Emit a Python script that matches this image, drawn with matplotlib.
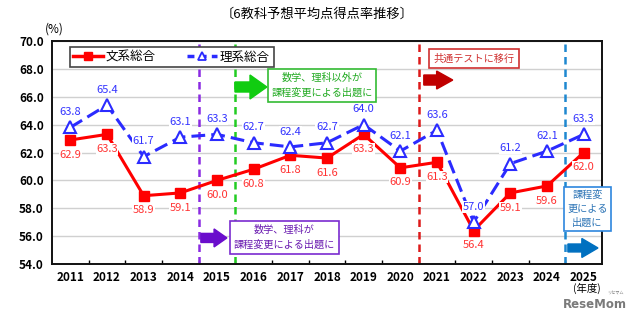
import numpy as np
import matplotlib
matplotlib.use("Agg")
import matplotlib.pyplot as plt
from matplotlib.lines import Line2D
from matplotlib.patches import FancyArrow

plt.rcParams['font.family'] = ['Noto Sans CJK JP', 'DejaVu Sans']

# data
years = [2011, 2012, 2013, 2014, 2015, 2016, 2017, 2018, 2019, 2020, 2021, 2022, 2023, 2024, 2025]
bunkei = [62.9, 63.3, 58.9, 59.1, 60.0, 60.8, 61.8, 61.6, 63.3, 60.9, 61.3, 56.4, 59.1, 59.6, 62.0]
rikei = [63.8, 65.4, 61.7, 63.1, 63.3, 62.7, 62.4, 62.7, 64.0, 62.1, 63.6, 57.0, 61.2, 62.1, 63.3]
change_years = [2014.5, 2015.5, 2020.5, 2024.5]
change_colors = ['#8A2BE2', '#22CC22', '#DD1A1A', '#1E88D0']

RED = '#FF0000'
BLUE = '#2B2BFF'

fig = plt.figure(figsize=(6.4, 3.24), dpi=100)
ax = fig.add_axes([52 / 640, 60 / 324, 550 / 640, 223 / 324])

ax.set_xlim(2010.5, 2025.5)
ax.set_ylim(54, 70)
ax.set_yticks(np.arange(54, 70.1, 2))
ax.set_yticklabels(['%.1f' % v for v in np.arange(54, 70.1, 2)], fontsize=8.5, fontweight='bold')
ax.set_xticks(years)
ax.set_xticklabels([str(y) for y in years], fontsize=8.5, fontweight='bold')
ax.set_xticks(np.arange(2011.5, 2025, 1), minor=True)
ax.tick_params(axis='x', which='major', length=0, pad=5)
ax.tick_params(axis='x', which='minor', direction='in', length=3, width=1)
ax.tick_params(axis='y', length=0, pad=6)
ax.grid(axis='y', color='#D0D0D0', linewidth=1)
ax.set_axisbelow(True)
for s in ax.spines.values():
    s.set_linewidth(1.4)
    s.set_color('#111111')

# vertical separators
for xv, c in zip(change_years, change_colors):
    ax.axvline(xv, color=c, linewidth=1.8, linestyle=(0, (3, 2)), zorder=2)

ax.plot(years, bunkei, color=RED, linewidth=2.2, marker='s', markersize=7,
        markerfacecolor=RED, markeredgecolor=RED, zorder=4)
ax.plot(years, rikei, color=BLUE, linewidth=2.2, linestyle=(0, (4.5, 2)), marker='^',
        markersize=8.5, markerfacecolor='white', markeredgecolor=BLUE,
        markeredgewidth=1.5, zorder=5)

for x, v in zip(years, bunkei):
    ax.annotate('%.1f' % v, (x, v), xytext=(0, -10.5), textcoords='offset points',
                ha='center', va='center', fontsize=8, color='#FF3333', zorder=6,
                bbox=dict(facecolor='white', edgecolor='none', pad=0.5))
for x, v in zip(years, rikei):
    ax.annotate('%.1f' % v, (x, v), xytext=(0, 11), textcoords='offset points',
                ha='center', va='center', fontsize=8, color='#3333FF', zorder=6,
                bbox=dict(facecolor='white', edgecolor='none', pad=0.5))

# arrows
arrows = [
    (2015.49, 66.70, 0.87, 0.72, 1.72, 0.46, '#11CC11'),
    (2014.56, 55.87, 0.71, 0.65, 1.29, 0.35, '#6A0DCC'),
    (2020.64, 67.20, 0.79, 0.72, 1.29, 0.44, '#C00000'),
    (2024.57, 55.15, 0.82, 0.57, 1.36, 0.44, '#0070C0'),
]
for x0, y0, dx, w, hw, hl, c in arrows:
    ax.add_patch(FancyArrow(x0, y0, dx, 0, width=w, head_width=hw, head_length=hl,
                            length_includes_head=True, color=c, zorder=6, clip_on=False))

# boxes with notes
ax.text(2017.87, 66.81, '数学、理科以外が\n課程変更による出題に', ha='center', va='center',
        fontsize=7.3, color='#22AA22', linespacing=1.6, zorder=7,
        bbox=dict(boxstyle='square,pad=0.35', facecolor='white', edgecolor='#33BB33', linewidth=1.2))
ax.text(2022.0, 68.75, '共通テストに移行', ha='center', va='center',
        fontsize=7.3, color='#D03030', zorder=7,
        bbox=dict(boxstyle='square,pad=0.45', facecolor='white', edgecolor='#D03030', linewidth=1.2))
ax.text(2016.84, 55.9, '数学、理科が\n課程変更による出題に', ha='center', va='center',
        fontsize=7.3, color='#6A1BB0', linespacing=1.6, zorder=7,
        bbox=dict(boxstyle='square,pad=0.35', facecolor='white', edgecolor='#7A2BD0', linewidth=1.2))
ax.text(2025.1, 57.95, '課程変\n更による\n出題に', ha='center', va='center',
        fontsize=7.3, color='#2E75B6', linespacing=1.5, zorder=7, clip_on=False,
        bbox=dict(boxstyle='square,pad=0.3', facecolor='white', edgecolor='#2E86DE', linewidth=1.2))

# legend
handles = [
    Line2D([], [], color=RED, linewidth=2.5, marker='s', markersize=6),
    Line2D([], [], color=BLUE, linewidth=2.5, linestyle=(0, (2, 1.5)), marker='^',
           markersize=6, markerfacecolor='white', markeredgewidth=1.3),
]
leg = ax.legend(handles, ['文系総合', '理系総合'], loc='center', ncol=2,
                bbox_to_anchor=(0.004, 0.874, 0.427, 0.108), fontsize=9,
                frameon=True, fancybox=False, edgecolor='#444444', framealpha=1,
                handlelength=2.4, handletextpad=0.2, columnspacing=2.5, borderpad=0.3)
leg.get_frame().set_linewidth(1.2)
leg.set_zorder(8)

fig.text(317 / 640, 1 - 14 / 324, '〔6教科予想平均点得点率推移〕', ha='center', va='center', fontsize=9.5)
fig.text(54 / 640, 1 - 29 / 324, '(%)', ha='center', va='center', fontsize=8.5)
fig.text(587 / 640, 1 - 288 / 324, '(年度)', ha='center', va='center', fontsize=7.5)
fig.text(627 / 640, 1 - 304 / 324, 'ReseMom', ha='right', va='center', fontsize=8.5,
         fontweight='bold', color='#7A7A7A', family='DejaVu Sans')
fig.text(624 / 640, 1 - 293 / 324, 'リセマム', ha='right', va='center', fontsize=3,
         color='#7A7A7A')

fig.savefig('out.png', dpi=100)
